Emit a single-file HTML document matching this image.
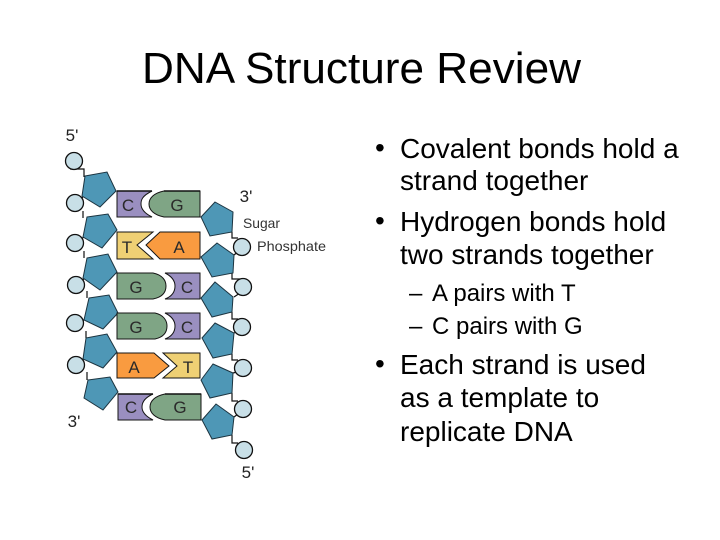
<!DOCTYPE html>
<html><head><meta charset="utf-8"><style>
html,body{margin:0;padding:0;background:#fff}
svg{display:block}
text{font-family:"Liberation Sans",Arial,sans-serif;fill:#000}
.p{fill:#4e97b6;stroke:#1c3440;stroke-width:1}
.o{fill:#c8dfe7;stroke:#111;stroke-width:1.3}
.l{fill:none;stroke:#111;stroke-width:1.2}
.b{stroke:#151515;stroke-width:1}
.d{font-size:17px;fill:#2a2a2a;text-anchor:middle}
.m{font-size:14px;fill:#333}
.t{font-size:28px}
.s{font-size:24px}
.dia{filter:blur(.35px)}
</style></head><body>
<svg width="720" height="540" viewBox="0 0 720 540" xmlns="http://www.w3.org/2000/svg">
<rect width="720" height="540" fill="#fff"/>
<text x="142" y="83" font-size="44" textLength="439" lengthAdjust="spacingAndGlyphs">DNA Structure Review</text>

<g class="dia">
<!-- connectors -->
<path class="l" d="M70 169H84V177M75 203L83 197M83 211V218M75 243L84 237M84 251V258M75 285L84 279M87 291V298M75 323L84 320M86 331V338M76 365L84 359M87 372V380"/>
<path class="l" d="M232 232V238H238M234 255L240 250M232 273V279H240M234 297L240 293M232 312V319H238M234 333L238 331M232 354V360H238M233 373L237 372M232 393V401H238M234 417L238 414M232 435V443H238"/>

<!-- left phosphates -->
<circle class="o" cx="74" cy="161" r="8.5"/><circle class="o" cx="75" cy="203" r="8.5"/><circle class="o" cx="75" cy="243" r="8.5"/><circle class="o" cx="76" cy="285" r="8.5"/><circle class="o" cx="75" cy="323" r="8.5"/><circle class="o" cx="76" cy="365" r="8.5"/>
<!-- right phosphates -->
<circle class="o" cx="242" cy="247" r="8.5"/><circle class="o" cx="243" cy="287" r="8.5"/><circle class="o" cx="242" cy="327" r="8.5"/><circle class="o" cx="243" cy="368" r="8.5"/><circle class="o" cx="243" cy="409" r="8.5"/><circle class="o" cx="244" cy="450" r="8.5"/>

<!-- left sugars -->
<polygon class="p" points="85,176 107,172 116,191 100,207 82,196"/>
<polygon class="p" points="87,217 108,214 117,230 102,248 83,237"/>
<polygon class="p" points="87,258 108,254 117,272 100,290 83,278"/>
<polygon class="p" points="89,298 109,295 118,313 103,329 84,320"/>
<polygon class="p" points="86,338 107,334 117,352 103,368 83,359"/>
<polygon class="p" points="88,380 110,377 118,392 103,410 84,398"/>
<!-- right sugars -->
<polygon class="p" points="215,202 233,212 232,232 210,236 201,217"/>
<polygon class="p" points="217,243 234,255 233,273 212,277 201,257"/>
<polygon class="p" points="215,282 233,297 232,312 212,317 201,298"/>
<polygon class="p" points="215,323 234,333 232,354 213,358 202,338"/>
<polygon class="p" points="213,364 233,373 232,393 210,398 201,380"/>
<polygon class="p" points="216,404 234,417 232,435 212,439 202,420"/>

<!-- base pairs -->
<path class="b" fill="#9a8fc0" d="M117 191H152C142 196 141 200 141 204C141 209 144 213 152 217H117Z"/>
<path class="b" fill="#7fa585" d="M200 191H164C154 193 149 198 149 204C149 210 154 215 164 217H200Z"/>
<path d="M117 191H152M164 191H200" stroke="#111" stroke-width="1.6"/>

<path class="b" fill="#efd074" d="M117 232H153L137 245L153 259H117Z"/>
<path class="b" fill="#f99b40" d="M200 232H160L146 245L160 259H200Z"/>

<path class="b" fill="#7fa585" d="M117 273H153C163 275 166 281 166 286C166 292 163 297 153 299H117Z"/>
<path class="b" fill="#9a8fc0" d="M200 273H165C173 277 175 282 175 286C175 291 173 296 165 299H200Z"/>

<path class="b" fill="#7fa585" d="M117 313H155C164 315 167 321 167 326C167 332 164 337 155 339H117Z"/>
<path class="b" fill="#9a8fc0" d="M200 313H165C173 317 175 322 175 326C175 331 173 336 165 339H200Z"/>

<path class="b" fill="#f99b40" d="M117 353H154L169 366L154 378H117Z"/>
<path class="b" fill="#efd074" d="M200 353H163L177 366L163 378H200Z"/>

<path class="b" fill="#9a8fc0" d="M118 394H153C144 398 142 403 142 407C142 412 145 416 153 420H118Z"/>
<path class="b" fill="#7fa585" d="M201 394H165C155 396 150 401 150 407C150 413 155 418 165 420H201Z"/>
<path d="M118 394H153M165 394H201" stroke="#111" stroke-width="1.6"/>

<text class="d" x="128" y="211">C</text><text class="d" x="177" y="211">G</text>
<text class="d" x="127" y="253">T</text><text class="d" x="179" y="253">A</text>
<text class="d" x="136" y="293">G</text><text class="d" x="187" y="293">C</text>
<text class="d" x="136" y="333">G</text><text class="d" x="187" y="333">C</text>
<text class="d" x="134" y="373">A</text><text class="d" x="188" y="373">T</text>
<text class="d" x="131" y="413">C</text><text class="d" x="180" y="413">G</text>

<text class="d" x="72" y="141" style="fill:#222">5'</text>
<text class="d" x="246" y="202" style="fill:#222">3'</text>
<text class="d" x="74" y="427" style="fill:#222">3'</text>
<text class="d" x="248" y="478" style="fill:#222">5'</text>
<text class="m" x="243" y="228" textLength="37" lengthAdjust="spacingAndGlyphs">Sugar</text>
<text class="m" x="257" y="251" textLength="69" lengthAdjust="spacingAndGlyphs">Phosphate</text>
</g>

<!-- bullets -->
<text class="t" x="375" y="157">•</text>
<text class="t" x="400" y="158">Covalent bonds hold a</text>
<text class="t" x="400" y="190">strand together</text>
<text class="t" x="375" y="230">•</text>
<text class="t" x="400" y="231">Hydrogen bonds hold</text>
<text class="t" x="400" y="264">two strands together</text>
<text class="s" x="409" y="301">–</text>
<text class="s" x="432" y="301">A pairs with T</text>
<text class="s" x="409" y="334">–</text>
<text class="s" x="432" y="334">C pairs with G</text>
<text class="t" x="375" y="373">•</text>
<text class="t" x="400" y="374">Each strand is used</text>
<text class="t" x="400" y="407">as a template to</text>
<text class="t" x="400" y="441">replicate DNA</text>
</svg>
</body></html>
